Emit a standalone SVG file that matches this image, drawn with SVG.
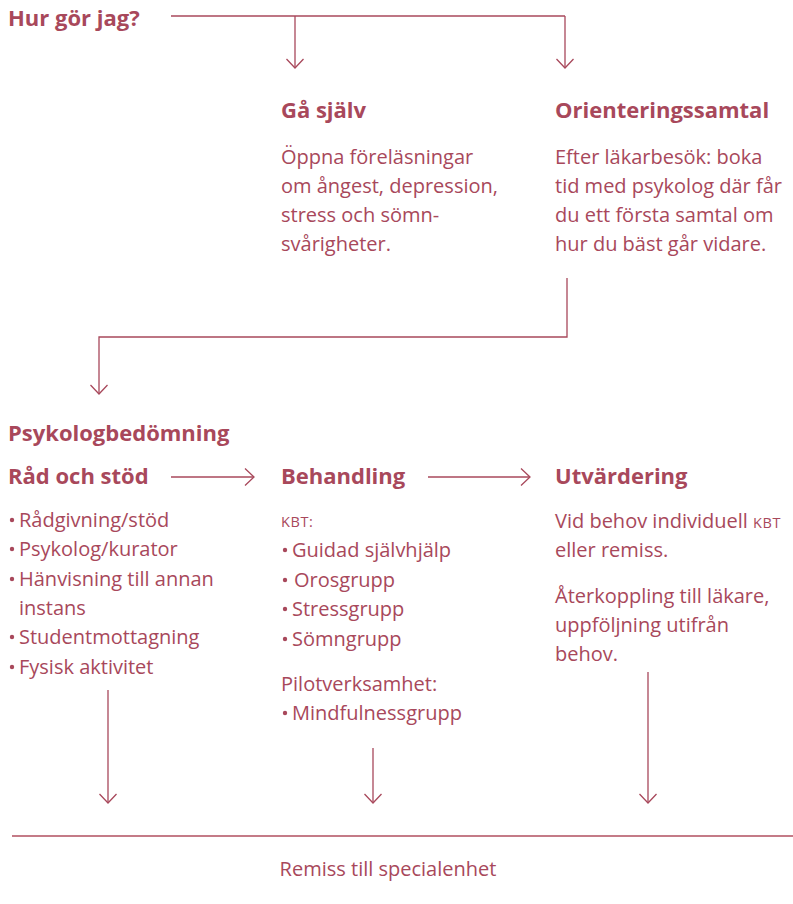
<svg xmlns="http://www.w3.org/2000/svg" width="793" height="904" viewBox="0 0 793 904">
<style>
text{font-family:"Open Sans","Lato","Liberation Sans",sans-serif;fill:#a8485b;font-size:20px}
.h{font-weight:700;font-size:22px}
.sc{font-size:14.5px;letter-spacing:0.6px}
.c{fill:none;stroke:#a8485b;stroke-width:1.3}
.base{fill:none;stroke:#c47b87;stroke-width:2}
.dot{fill:#a8485b}
</style>
<defs>
<marker id="ah" markerUnits="userSpaceOnUse" markerWidth="20" markerHeight="20" refX="0" refY="0" viewBox="-10 -10 20 20" orient="auto" overflow="visible">
<path d="M-9,-8.5 L0,0 L-9,8.5" fill="none" stroke="#a8485b" stroke-width="1.3"/>
</marker>
</defs>
<g id="connectors">
<path class="c" d="M171,16 H565"/>
<path class="c" d="M295,16 V68" marker-end="url(#ah)"/>
<path class="c" d="M565,16 V68" marker-end="url(#ah)"/>
<path class="c" d="M567,278 V337 H99 V394" marker-end="url(#ah)"/>
<path class="c" d="M171,477 H254" marker-end="url(#ah)"/>
<path class="c" d="M428,477 H530" marker-end="url(#ah)"/>
<path class="c" d="M108,690 V803" marker-end="url(#ah)"/>
<path class="c" d="M373,748 V803" marker-end="url(#ah)"/>
<path class="c" d="M648,672 V803" marker-end="url(#ah)"/>
<path class="base" d="M12,836 H793"/>
</g>
<g id="start"><text class="h" x="8" y="26">Hur gör jag?</text></g>
<g id="ga-sjalv">
<text class="h" x="281" y="118">Gå själv</text>
<text x="281" y="164">Öppna föreläsningar</text>
<text x="281" y="193">om ångest, depression,</text>
<text x="281" y="222">stress och sömn-</text>
<text x="281" y="251">svårigheter.</text>
</g>
<g id="orientering">
<text class="h" x="555" y="118">Orienteringssamtal</text>
<text x="555" y="164">Efter läkarbesök: boka</text>
<text x="555" y="193">tid med psykolog där får</text>
<text x="555" y="222">du ett första samtal om</text>
<text x="555" y="251">hur du bäst går vidare.</text>
</g>
<g id="psykologbedomning"><text class="h" x="8" y="441">Psykologbedömning</text></g>
<g id="rad-och-stod">
<text class="h" x="8" y="484">Råd och stöd</text>
<circle class="dot" cx="12" cy="520" r="2.2"/><text x="19" y="527">Rådgivning/stöd</text>
<circle class="dot" cx="12" cy="549" r="2.2"/><text x="19" y="556">Psykolog/kurator</text>
<circle class="dot" cx="12" cy="579" r="2.2"/><text x="19" y="586">Hänvisning till annan</text>
<text x="19" y="615">instans</text>
<circle class="dot" cx="12" cy="637" r="2.2"/><text x="19" y="644">Studentmottagning</text>
<circle class="dot" cx="12" cy="667" r="2.2"/><text x="19" y="674">Fysisk aktivitet</text>
</g>
<g id="behandling">
<text class="h" x="281" y="484">Behandling</text>
<text class="sc" x="281" y="527">KBT:</text>
<circle class="dot" cx="285" cy="550" r="2.2"/><text x="292" y="557">Guidad självhjälp</text>
<circle class="dot" cx="285" cy="580" r="2.2"/><text x="294" y="587">Orosgrupp</text>
<circle class="dot" cx="285" cy="609" r="2.2"/><text x="292" y="616">Stressgrupp</text>
<circle class="dot" cx="285" cy="639" r="2.2"/><text x="292" y="646">Sömngrupp</text>
<text x="281" y="691">Pilotverksamhet:</text>
<circle class="dot" cx="285" cy="713" r="2.2"/><text x="292" y="720">Mindfulnessgrupp</text>
</g>
<g id="utvardering">
<text class="h" x="555" y="484">Utvärdering</text>
<text x="555" y="528">Vid behov individuell <tspan class="sc">KBT</tspan></text>
<text x="555" y="557">eller remiss.</text>
<text x="555" y="603">Återkoppling till läkare,</text>
<text x="555" y="632">uppföljning utifrån</text>
<text x="555" y="661">behov.</text>
</g>
<g id="remiss"><text x="388" y="876" text-anchor="middle">Remiss till specialenhet</text></g>
</svg>
